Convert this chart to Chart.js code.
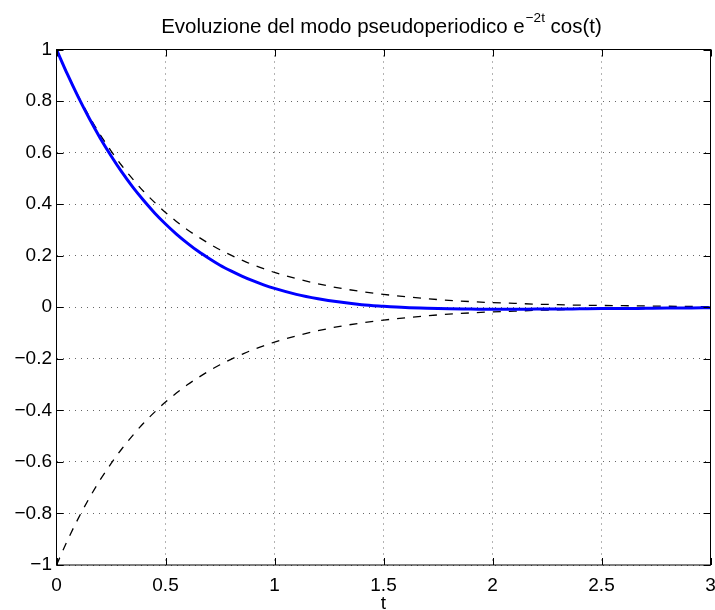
<!DOCTYPE html>
<html><head><meta charset="utf-8">
<script src="https://cdn.jsdelivr.net/npm/chart.js@4/dist/chart.umd.min.js"></script>
<style>html,body{margin:0;padding:0;background:#fff}#wrap{width:715px;height:610px}</style>
</head><body><div id="wrap"><canvas id="c" width="715" height="610"></canvas></div>
<script>
// ---- data ----
const tValues = [0,0.05,0.1,0.15,0.2,0.25,0.3,0.35,0.4,0.45,0.5,0.55,0.6,0.65,0.7,0.75,0.8,0.85,0.9,0.95,1.0,
  1.1,1.2,1.3,1.4,1.5,1.6,1.7,1.8,1.9,2.0,2.1,2.2,2.3,2.4,2.5,2.6,2.7,2.8,2.9,3.0];
const modeValues = [1,0.904,0.815,0.733,0.657,0.588,0.524,0.466,0.414,0.366,0.323,0.284,0.249,0.217,0.189,0.163,0.141,0.121,0.103,0.087,0.073,
  0.050,0.033,0.020,0.010,0.004,-0.001,-0.004,-0.006,-0.007,-0.008,-0.008,-0.007,-0.007,-0.006,-0.005,-0.005,-0.004,-0.003,-0.003,-0.002];
const upperEnvelope = [1,0.905,0.819,0.741,0.670,0.607,0.549,0.497,0.449,0.407,0.368,0.333,0.301,0.273,0.247,0.223,0.202,0.183,0.165,0.150,0.135,
  0.111,0.091,0.074,0.061,0.050,0.041,0.033,0.027,0.022,0.018,0.015,0.012,0.010,0.008,0.007,0.006,0.005,0.004,0.003,0.002];
const lowerEnvelope = [-1,-0.905,-0.819,-0.741,-0.670,-0.607,-0.549,-0.497,-0.449,-0.407,-0.368,-0.333,-0.301,-0.273,-0.247,-0.223,-0.202,-0.183,-0.165,-0.150,-0.135,
  -0.111,-0.091,-0.074,-0.061,-0.050,-0.041,-0.033,-0.027,-0.022,-0.018,-0.015,-0.012,-0.010,-0.008,-0.007,-0.006,-0.005,-0.004,-0.003,-0.002];
const xTicks = [0,0.5,1,1.5,2,2.5,3];
const yTicks = [-1,-0.8,-0.6,-0.4,-0.2,0,0.2,0.4,0.6,0.8,1];
const titleMain = 'Evoluzione del modo pseudoperiodico e';
const titleSup = '\u22122t';
const titleEnd = ' cos(t)';
const xLabel = 't';

// ---- rendering ----
const FONT = '"Liberation Sans", Arial, Helvetica, sans-serif';
const pts = arr => tValues.map((t, i) => ({x: t, y: arr[i]}));
const fmt = v => String(v).replace('-', '\u2212');

const framePlugin = {
  id: 'frame',
  afterDatasetsDraw(chart) {
    const {ctx, chartArea: a, scales: {x, y}} = chart;
    ctx.save();
    ctx.strokeStyle = '#000';
    ctx.lineWidth = 1;
    ctx.setLineDash([]);
    const L = 7;
    ctx.beginPath();
    xTicks.forEach(v => {
      const px = Math.round(x.getPixelForValue(v)) + 0.5;
      ctx.moveTo(px, a.bottom); ctx.lineTo(px, a.bottom - L);
      ctx.moveTo(px, a.top); ctx.lineTo(px, a.top + L);
    });
    yTicks.forEach(v => {
      const py = Math.round(y.getPixelForValue(v)) + 0.5;
      ctx.moveTo(a.left, py); ctx.lineTo(a.left + L, py);
      ctx.moveTo(a.right, py); ctx.lineTo(a.right - L, py);
    });
    ctx.stroke();
    ctx.strokeRect(a.left, a.top, a.right - a.left, a.bottom - a.top);
    ctx.restore();
  },
  afterDraw(chart) {
    const {ctx, chartArea: a} = chart;
    ctx.save();
    ctx.fillStyle = '#000';
    ctx.textBaseline = 'alphabetic';
    ctx.textAlign = 'left';
    const mainFont = '20.5px ' + FONT, supFont = '13.5px ' + FONT;
    ctx.font = mainFont; const w1 = ctx.measureText(titleMain).width, w3 = ctx.measureText(titleEnd).width;
    ctx.font = supFont; const w2 = ctx.measureText(titleSup).width;
    const gap = 1;
    const total = w1 + gap + w2 + w3;
    let xs = (a.left + a.right) / 2 - total / 2 - 2;
    const base = 33;
    ctx.font = mainFont; ctx.fillText(titleMain, xs, base); xs += w1 + gap;
    ctx.font = supFont; ctx.fillText(titleSup, xs, base - 11.5); xs += w2;
    ctx.font = mainFont; ctx.fillText(titleEnd, xs, base);
    ctx.restore();
  }
};

new Chart(document.getElementById('c'), {
  type: 'line',
  data: {
    datasets: [
      {data: pts(modeValues), borderColor: '#0000ff', borderWidth: 3, pointRadius: 0, cubicInterpolationMode: 'monotone', fill: false},
      {data: pts(upperEnvelope), borderColor: '#000', borderWidth: 1.3, borderDash: [8, 8], pointRadius: 0, cubicInterpolationMode: 'monotone', fill: false},
      {data: pts(lowerEnvelope), borderColor: '#000', borderWidth: 1.3, borderDash: [8, 8], pointRadius: 0, cubicInterpolationMode: 'monotone', fill: false}
    ]
  },
  options: {
    responsive: false,
    devicePixelRatio: 1,
    animation: false,
    layout: {padding: {top: 49.5, right: 4.5, left: 0, bottom: 0}},
    plugins: {legend: {display: false}, tooltip: {enabled: false}, title: {display: false}},
    scales: {
      x: {
        type: 'linear', min: 0, max: 3,
        afterBuildTicks: s => { s.ticks = xTicks.map(v => ({value: v})); },
        afterFit: s => { s.height = 45; s.paddingLeft = 0; s.paddingRight = 0; },
        ticks: {font: {family: FONT, size: 19}, color: '#000', padding: 9, maxRotation: 0, callback: v => fmt(v)},
        grid: {drawTicks: false, color: 'rgba(0,0,0,0.6)', lineWidth: 1},
        border: {display: false, dash: [1, 5]},
        title: {display: true, text: xLabel, font: {family: FONT, size: 19}, color: '#000', padding: {top: 0, bottom: -5}}
      },
      y: {
        type: 'linear', min: -1, max: 1,
        afterBuildTicks: s => { s.ticks = yTicks.map(v => ({value: v})); },
        afterFit: s => { s.width = 56.5; s.paddingTop = 0; s.paddingBottom = 0; },
        ticks: {font: {family: FONT, size: 19}, color: '#000', padding: 4.5, callback: v => fmt(v)},
        grid: {drawTicks: false, color: 'rgba(0,0,0,0.6)', lineWidth: 1},
        border: {display: false, dash: [1, 5]}
      }
    }
  },
  plugins: [framePlugin]
});
</script></body></html>
